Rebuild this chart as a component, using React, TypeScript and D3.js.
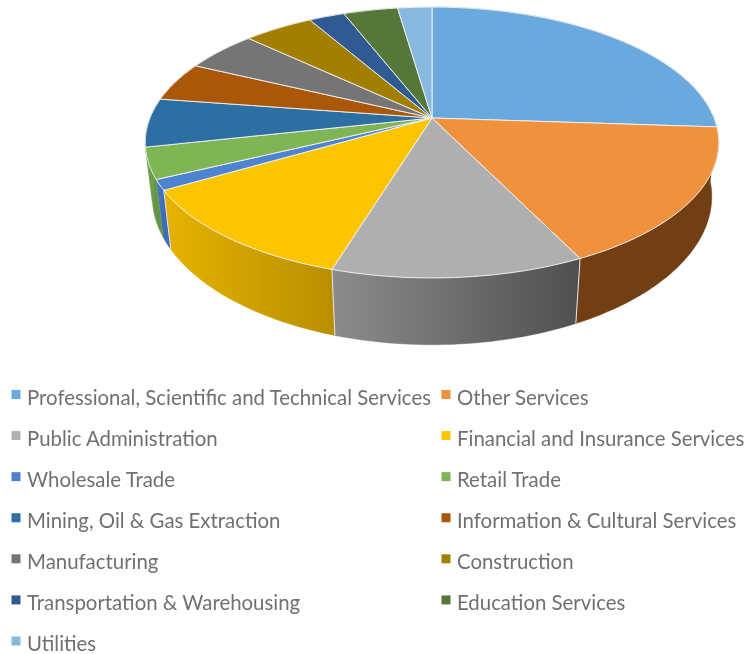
import React from "react";
import * as d3 from "d3";

const categories = [
  "Professional, Scientific and Technical Services",
  "Other Services",
  "Public Administration",
  "Financial and Insurance Services",
  "Wholesale Trade",
  "Retail Trade",
  "Mining, Oil & Gas Extraction",
  "Information & Cultural Services",
  "Manufacturing",
  "Construction",
  "Transportation & Warehousing",
  "Education Services",
  "Utilities",
];
const values = [26.1, 16.7, 12.0, 11.9, 1.25, 3.7, 5.8, 4.7, 4.9, 4.7, 2.4, 3.66, 2.3];
const topColors = ["#6aa9dd", "#f0913e", "#afafaf", "#fdc500", "#4e83cf", "#80b556", "#2d6ea3", "#ab5709", "#757575", "#a37f00", "#2f5a92", "#55783a", "#87b9e0"];
const sideLeft = ["#3a6a96", "#723f15", "#8c8c8c", "#e6b300", "#4a7cc8", "#76a651", "#6f9f4d", "#ab5709", "#757575", "#a37f00", "#2f5a92", "#55783a", "#87b9e0"];
const sideRight = ["#3a6a96", "#723f15", "#4f4f4f", "#b98f00", "#3f6bb5", "#659648", "#6f9f4d", "#ab5709", "#757575", "#a37f00", "#2f5a92", "#55783a", "#87b9e0"];

const apex = { x: 432, y: 118 };
const Rx = 282;
const Ry = 131;
const persp = 0.181;

function topPoint(t: number) {
  const u = Math.sin(t);
  const v = -Math.cos(t);
  const d = 1 - persp * v;
  return { x: apex.x + (Rx * u) / d, y: apex.y + (Ry * v) / d };
}
const depth = d3.scaleLinear().domain([190, 269]).range([59, 66]);
const lean = 1 / 2260;
function bottomPoint(t: number) {
  const p = topPoint(t);
  const h = depth(p.y);
  return { x: p.x + (apex.x - p.x) * h * lean, y: p.y + h };
}

const pie = d3.pie<number>().sort(null).startAngle(0).endAngle(2 * Math.PI);
const arcs = pie(values);

function sampleAngles(a: number, b: number) {
  const n = Math.max(4, Math.ceil((b - a) / 0.02));
  return d3.range(n + 1).map((i) => a + ((b - a) * i) / n);
}
const line = d3.line<{ x: number; y: number }>().x((d) => d.x).y((d) => d.y);

const rowY = d3.scalePoint<number>().domain(d3.range(7)).range([398, 644.5]);
const colX = [27, 457];

export default function App() {
  const order = arcs.map((_, i) => i);
  return (
    <svg width={745} height={654} style={{ position: "absolute", left: 0, top: 0, background: "#fff" }}>
      <defs>
        {arcs.map((a, i) => {
          const pts = sampleAngles(a.startAngle, a.endAngle).map(topPoint);
          const [x0, x1] = d3.extent(pts, (p) => p.x) as [number, number];
          return (
            <linearGradient key={i} id={`side${i}`} gradientUnits="userSpaceOnUse" x1={x0} x2={x1} y1={0} y2={0}>
              <stop offset="0" stopColor={sideLeft[i]} />
              <stop offset="1" stopColor={sideRight[i]} />
            </linearGradient>
          );
        })}
      </defs>
      <g style={{ filter: "blur(0.6px)" }}>
        {order.map((i) => {
          const a = arcs[i];
          const ts = sampleAngles(a.startAngle, a.endAngle);
          const path = line([...ts.map(topPoint), ...ts.slice().reverse().map(bottomPoint)]) + "Z";
          return <path key={i} d={path} fill={`url(#side${i})`} stroke={`url(#side${i})`} strokeWidth={0.4} />;
        })}
        {order.map((i) => {
          const a = arcs[i];
          if (i < 1 || i > 3) return null;
          return (
            <line
              key={i}
              x1={topPoint(a.endAngle).x}
              y1={topPoint(a.endAngle).y}
              x2={bottomPoint(a.endAngle).x}
              y2={bottomPoint(a.endAngle).y}
              stroke="#e8e8e8"
              strokeWidth={1}
            />
          );
        })}
        {order.map((i) => {
          const a = arcs[i];
          const ts = sampleAngles(a.startAngle, a.endAngle);
          const path = line([apex, ...ts.map(topPoint)]) + "Z";
          return <path key={i} d={path} fill={topColors[i]} stroke="#f4f4f4" strokeWidth={0.9} strokeLinejoin="round" />;
        })}
      </g>
      <g style={{ filter: "blur(0.6px)" }} fontFamily="Lato, 'Open Sans', sans-serif" fontSize={20.4} fill="#707070">
        {categories.map((c, i) => {
          const col = i % 2;
          const row = Math.floor(i / 2);
          const y = rowY(row) as number;
          return (
            <g key={c}>
              <rect x={colX[col] - 15.5} y={y - 8} width={9} height={9} fill={topColors[i]} />
              <text x={colX[col]} y={y + 6.5}>{c}</text>
            </g>
          );
        })}
      </g>
    </svg>
  );
}
